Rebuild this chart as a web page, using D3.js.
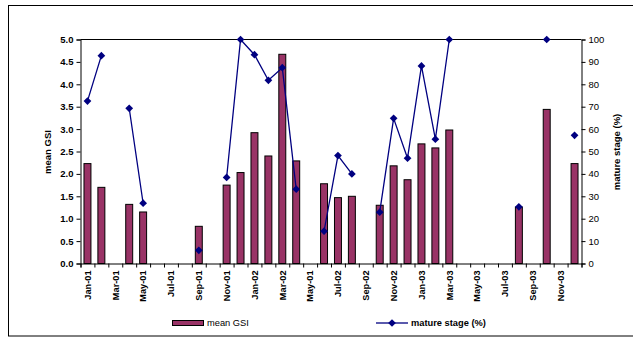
<!DOCTYPE html>
<html>
<head>
<meta charset="utf-8">
<script src="https://cdn.jsdelivr.net/npm/d3@7"></script>
<style>
  html, body { margin: 0; padding: 0; background: #fff; }
  svg { display: block; font-family: "Liberation Sans", Arial, sans-serif; }
</style>
</head>
<body>
<svg id="chart" width="633" height="338"></svg>
<script>
// Monthly sampling, Jan 2001 - Dec 2003
const months = [
  "Jan-01","Feb-01","Mar-01","Apr-01","May-01","Jun-01","Jul-01","Aug-01","Sep-01","Oct-01","Nov-01","Dec-01",
  "Jan-02","Feb-02","Mar-02","Apr-02","May-02","Jun-02","Jul-02","Aug-02","Sep-02","Oct-02","Nov-02","Dec-02",
  "Jan-03","Feb-03","Mar-03","Apr-03","May-03","Jun-03","Jul-03","Aug-03","Sep-03","Oct-03","Nov-03","Dec-03"
];

// Labels printed under every second month
const tickLabels = [
  "Jan-01","Mar-01","May-01","Jul-01","Sep-01","Nov-01",
  "Jan-02","Mar-02","May-01","Jul-02","Sep-02","Nov-02",
  "Jan-03","Mar-03","May-03","Jul-03","Sep-03","Nov-03"
];

// Mean gonadosomatic index (null = no sample)
const meanGSI = [
  2.23, 1.70, null, 1.32, 1.15, null, null, null, 0.83, null, 1.75, 2.03,
  2.92, 2.40, 4.67, 2.29, null, 1.78, 1.47, 1.50, null, 1.30, 2.18, 1.87,
  2.67, 2.58, 2.98, null, null, null, null, 1.26, null, 3.44, null, 2.23
];

// Percentage of fish at the mature stage (null = no sample)
const matureStage = [
  72.5, 92.8, null, 69.3, 26.9, null, null, null, 5.9, null, 38.4, 100,
  93.2, 81.8, 87.4, 33.2, null, 14.4, 48.2, 40.0, null, 22.9, 64.8, 47.0,
  88.2, 55.5, 100, null, null, null, null, 25.3, null, 100, null, 57.2
];

const gsiTicks = [0, 0.5, 1.0, 1.5, 2.0, 2.5, 3.0, 3.5, 4.0, 4.5, 5.0];
const pctTicks = [0, 10, 20, 30, 40, 50, 60, 70, 80, 90, 100];

const barColor = "#993366";
const lineColor = "#000080";

const svg = d3.select("#chart");
const plot = { left: 80.5, right: 581.5, top: 39.5, bottom: 263.5 };

// outer chart frame
svg.append("rect")
  .attr("x", 8.5).attr("y", 5.5)
  .attr("width", 640).attr("height", 330.5)
  .attr("fill", "none").attr("stroke", "#000").attr("stroke-width", 1);

const x = d3.scaleBand()
  .domain(months)
  .range([plot.left, plot.right])
  .paddingInner(0.5)
  .paddingOuter(0.25);

const xEdge = d3.scaleLinear().domain([0, months.length]).range([plot.left, plot.right]);

const yL = d3.scaleLinear().domain([0, 5]).range([plot.bottom, plot.top]);
const yR = d3.scaleLinear().domain([0, 100]).range([plot.bottom, plot.top]);

// top border of plot area
svg.append("line")
  .attr("x1", plot.left).attr("x2", plot.right)
  .attr("y1", plot.top).attr("y2", plot.top)
  .attr("stroke", "#000").attr("stroke-width", 1);

// bars
svg.append("g").selectAll("rect")
  .data(months.map((m, i) => ({ m, v: meanGSI[i] })).filter(d => d.v != null))
  .join("rect")
  .attr("x", d => x(d.m))
  .attr("width", x.bandwidth())
  .attr("y", d => yL(d.v))
  .attr("height", d => yL(0) - yL(d.v))
  .attr("fill", barColor)
  .attr("stroke", "#000")
  .attr("stroke-width", 1);

// left axis
const axL = svg.append("g")
  .attr("transform", `translate(${plot.left},0)`)
  .call(d3.axisLeft(yL).tickValues(gsiTicks).tickFormat(d3.format(".1f")).tickSize(4).tickPadding(3));
axL.selectAll("text").attr("font-size", 9.5).attr("font-weight", "bold").attr("fill", "#000")
  .attr("font-family", "Liberation Sans, Arial, sans-serif");

// right axis
const axR = svg.append("g")
  .attr("transform", `translate(${plot.right},0)`)
  .call(d3.axisRight(yR).tickValues(pctTicks).tickSize(4).tickPadding(3));
axR.selectAll("text").attr("font-size", 9.5).attr("fill", "#000")
  .attr("font-family", "Liberation Sans, Arial, sans-serif");

// bottom axis: boundary ticks
const axB = svg.append("g")
  .attr("transform", `translate(0,${plot.bottom})`)
  .call(d3.axisBottom(xEdge).tickValues(d3.range(months.length + 1)).tickFormat("").tickSize(4));

[axL, axR, axB].forEach(g => {
  g.select(".domain").attr("stroke", "#000");
  g.selectAll(".tick line").attr("stroke", "#000");
});

// month labels (every second month)
const labelMonths = months.filter((m, i) => i % 2 === 0);
svg.append("g").selectAll("text")
  .data(labelMonths.map((m, i) => ({ m, label: tickLabels[i] })))
  .join("text")
  .attr("transform", d => `translate(${x(d.m) + x.bandwidth() / 2},${plot.bottom + 7}) rotate(-90)`)
  .attr("dy", "0.35em")
  .attr("text-anchor", "end")
  .attr("font-size", 9.2)
  .attr("font-weight", "bold")
  .text(d => d.label);

// maturity line, broken where samples are missing
const pts = months.map((m, i) => ({ m, v: matureStage[i] }));
const line = d3.line()
  .defined(d => d.v != null)
  .x(d => x(d.m) + x.bandwidth() / 2)
  .y(d => yR(d.v));
svg.append("path")
  .datum(pts)
  .attr("d", line)
  .attr("fill", "none")
  .attr("stroke", lineColor)
  .attr("stroke-width", 1.3);

const diamond = d3.symbol().type(d3.symbolSquare).size(30);
svg.append("g").selectAll("path")
  .data(pts.filter(d => d.v != null))
  .join("path")
  .attr("d", diamond)
  .attr("transform", d => `translate(${x(d.m) + x.bandwidth() / 2},${yR(d.v)}) rotate(45)`)
  .attr("fill", lineColor);

// axis titles
svg.append("text")
  .attr("transform", `translate(48,152) rotate(-90)`)
  .attr("dy", "0.35em")
  .attr("text-anchor", "middle")
  .attr("font-size", 9.5).attr("font-weight", "bold")
  .text("mean GSI");

svg.append("text")
  .attr("transform", `translate(617,152) rotate(-90)`)
  .attr("dy", "0.35em")
  .attr("text-anchor", "middle")
  .attr("font-size", 9.5).attr("font-weight", "bold")
  .text("mature stage (%)");

// legend
const lg = svg.append("g");
lg.append("rect")
  .attr("x", 172.5).attr("y", 320.5).attr("width", 31).attr("height", 5)
  .attr("fill", barColor).attr("stroke", "#000").attr("stroke-width", 1);
lg.append("text")
  .attr("x", 207).attr("y", 323).attr("dy", "0.35em")
  .attr("font-size", 9.3)
  .text("mean GSI");
lg.append("line")
  .attr("x1", 376).attr("x2", 408).attr("y1", 323).attr("y2", 323)
  .attr("stroke", lineColor).attr("stroke-width", 1.3);
lg.append("path")
  .attr("d", diamond)
  .attr("transform", "translate(392,323) rotate(45)")
  .attr("fill", lineColor);
lg.append("text")
  .attr("x", 411).attr("y", 323).attr("dy", "0.35em")
  .attr("font-size", 9.3).attr("font-weight", "bold")
  .text("mature stage (%)");
</script>
</body>
</html>
